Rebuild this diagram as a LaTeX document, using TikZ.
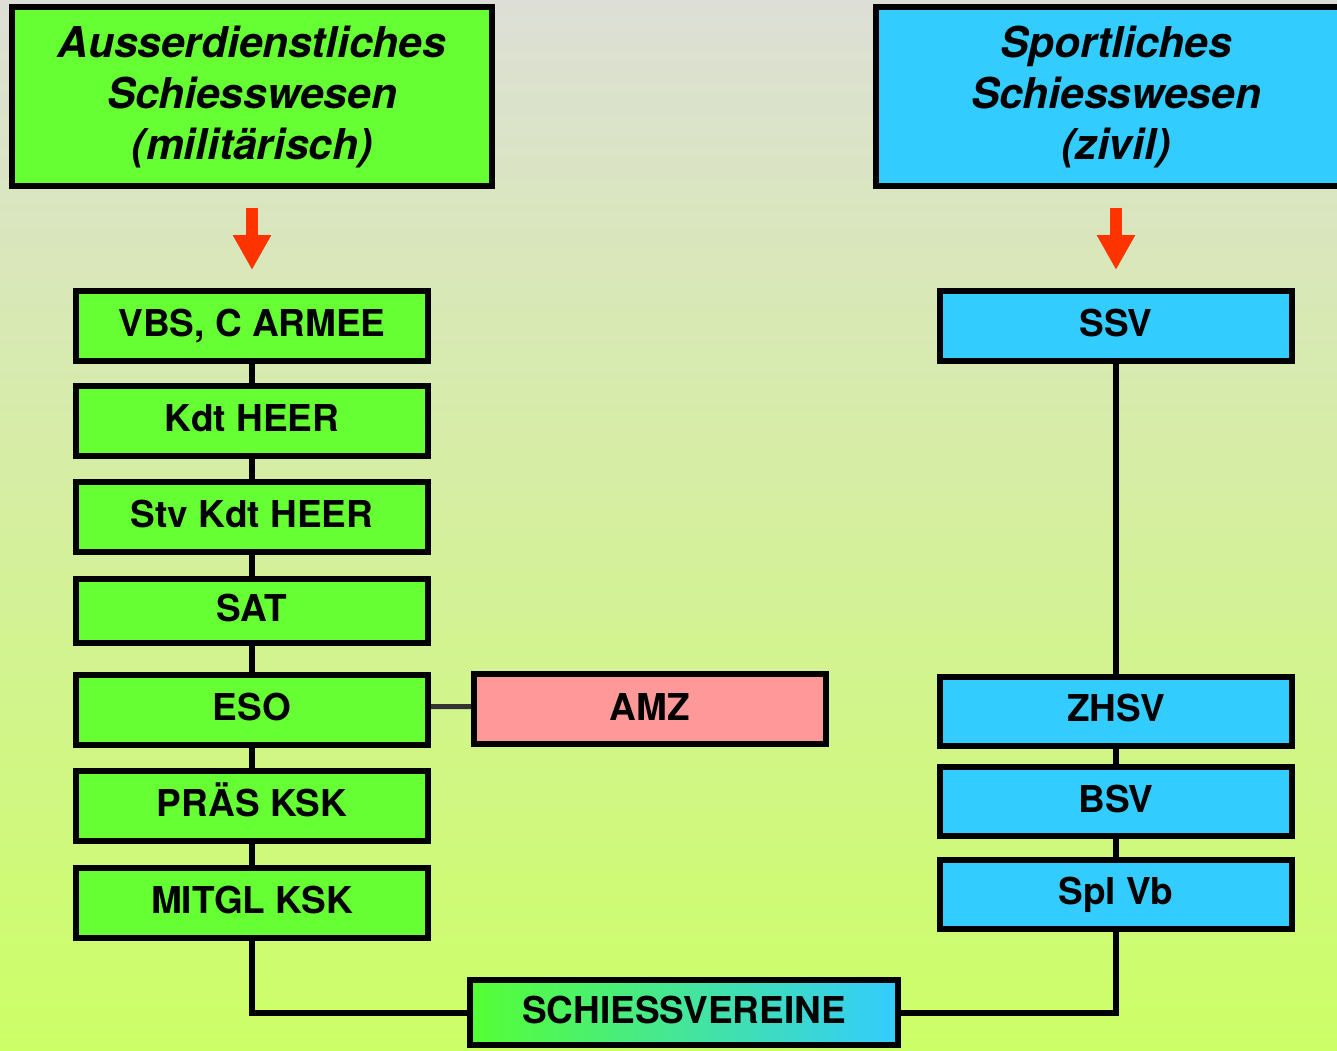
\documentclass[tikz,border=0pt]{standalone}
\usepackage{fontspec}
\setmainfont{TeX Gyre Heros}
\usetikzlibrary{arrows.meta}
\definecolor{bgtop}{RGB}{221,223,214}
\definecolor{bgbot}{RGB}{204,255,102}
\definecolor{boxgreen}{HTML}{66FF33}
\definecolor{boxcyan}{HTML}{33CCFF}
\definecolor{boxpink}{HTML}{FF9999}
\definecolor{arrowred}{HTML}{FF3300}
\definecolor{svgreen}{RGB}{85,255,51}
\definecolor{amzline}{HTML}{333333}
\begin{document}
\begin{tikzpicture}[x=1pt,y=-1pt,
  unitbox/.style={draw=black, line width=6pt, minimum width=352pt, minimum height=70pt,
    inner sep=0pt, font=\fontsize{37}{44}\selectfont\bfseries,
    text height=26.5pt, text depth=5pt},
  titlebox/.style={draw=black, line width=6pt, minimum width=480pt, minimum height=178.7pt,
    inner sep=0pt, align=center, font=\fontsize{42.5}{51}\selectfont\bfseries\itshape},
  conn/.style={draw=black, line width=6pt},
  sideconn/.style={draw=amzline, line width=5pt},
  redarrow/.style={draw=arrowred, line width=12pt,
    -{Triangle[width=36pt,length=35pt]}, shorten <=18.7pt, shorten >=18pt}
]
\clip (0,0) rectangle (1337,1050);
\useasboundingbox (0,0) rectangle (1337,1050);
\shade[top color=bgtop, bottom color=bgbot] (0,0) rectangle (1337,1050);

% title boxes
\node[titlebox, fill=boxgreen] (tl) at (252,96.5) {Ausserdienstliches\\Schiesswesen\\(militärisch)};
\node[titlebox, fill=boxcyan] (tr) at (1116,96.5) {Sportliches\\Schiesswesen\\(zivil)};

% left column
\node[unitbox, fill=boxgreen] (vbs) at (252,326) {VBS, C ARMEE};
\node[unitbox, fill=boxgreen] (kdt) at (252,420.5) {Kdt HEER};
\node[unitbox, fill=boxgreen] (stv) at (252,517) {Stv Kdt HEER};
\node[unitbox, fill=boxgreen, minimum height=64pt] (sat) at (252,611) {SAT};
\node[unitbox, fill=boxgreen] (eso) at (252,709.5) {ESO};
\node[unitbox, fill=boxgreen] (praes) at (252,806) {PRÄS KSK};
\node[unitbox, fill=boxgreen] (mitgl) at (252,902.5) {MITGL KSK};
\node[unitbox, fill=boxpink, minimum width=352.5pt] (amz) at (650,709.4) {AMZ};

% right column
\node[unitbox, fill=boxcyan] (ssv) at (1116,326) {SSV};
\node[unitbox, fill=boxcyan, minimum height=69pt] (zhsv) at (1116,711) {ZHSV};
\node[unitbox, fill=boxcyan, minimum height=69pt] (bsv) at (1116,801.5) {BSV};
\node[unitbox, fill=boxcyan, minimum height=69pt] (spl) at (1116,894) {Spl Vb};

% bottom
\node[unitbox, left color=svgreen, right color=boxcyan, minimum width=428pt, minimum height=65pt] (sv) at (684,1012.5) {SCHIESSVEREINE};

% arrows
\draw[redarrow] (tl) -- (vbs);
\draw[redarrow] (tr) -- (ssv);

% connectors
\draw[conn] (vbs) -- (kdt);
\draw[conn] (kdt) -- (stv);
\draw[conn] (stv) -- (sat);
\draw[conn] (sat) -- (eso);
\draw[conn] (eso) -- (praes);
\draw[conn] (praes) -- (mitgl);
\draw[conn] (mitgl) |- (sv);
\draw[conn] (ssv) -- (zhsv);
\draw[conn] (zhsv) -- (bsv);
\draw[conn] (bsv) -- (spl);
\draw[conn] (spl) |- (sv);
\draw[sideconn] ([yshift=2.8pt]eso.east) -- ([yshift=2.8pt]amz.west);
\end{tikzpicture}
\end{document}
